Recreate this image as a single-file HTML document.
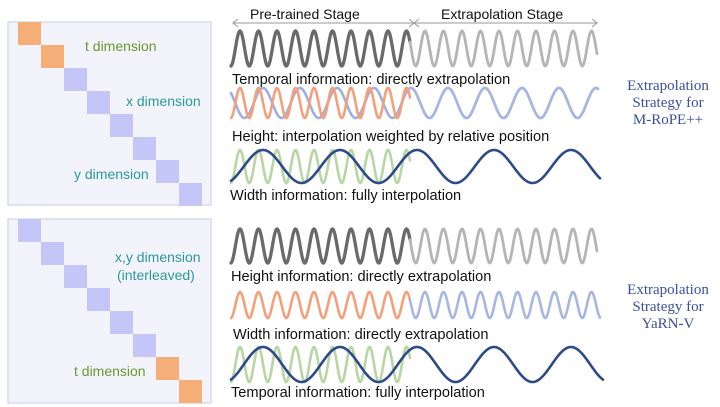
<!DOCTYPE html>
<html><head><meta charset="utf-8"><style>
html,body{margin:0;padding:0;background:#fff;}
svg{display:block;}
.lb{font-family:"Liberation Sans",sans-serif;font-size:14.6px;fill:#111;}
.dm{font-family:"Liberation Sans",sans-serif;font-size:14px;}
.rt{font-family:"Liberation Serif",serif;font-size:15px;fill:#3b4fa0;}
</style></head><body>
<svg id="s" width="720" height="407" viewBox="0 0 720 407" xmlns="http://www.w3.org/2000/svg">
<rect x="8" y="22" width="203" height="183" fill="#f2f3fb" stroke="#d8dbee" stroke-width="1.5"/>
<rect x="8" y="219" width="203" height="184" fill="#f2f3fb" stroke="#d8dbee" stroke-width="1.5"/>
<g id="sq"></g>
<text class="dm" x="85" y="51" fill="#6a9a30">t dimension</text>
<text class="dm" x="126" y="106" fill="#2a9a9a">x dimension</text>
<text class="dm" x="74" y="179" fill="#2a9a9a">y dimension</text>
<text class="dm" x="115" y="262" fill="#2a9a9a">x,y dimension</text>
<text class="dm" x="117" y="280" fill="#2a9a9a">(interleaved)</text>
<text class="dm" x="74" y="376" fill="#6a9a30">t dimension</text>
<text class="lb" x="250" y="19" style="font-size:14px">Pre-trained Stage</text>
<text class="lb" x="441" y="19" style="font-size:14px">Extrapolation Stage</text>
<g stroke="#999" stroke-width="1" fill="none">
<line x1="233" y1="23" x2="597" y2="23"/>
<path d="M238 19 L233 23 L238 27 M409 19 L414 23 L409 27 M419 19 L414 23 L419 27 M592 19 L597 23 L592 27"/>
</g>
<g id="w" fill="none" stroke-linecap="round"></g>
<text class="lb" x="232" y="84">Temporal information: directly extrapolation</text>
<text class="lb" x="232" y="141">Height: interpolation weighted by relative position</text>
<text class="lb" x="230" y="200">Width information: fully interpolation</text>
<text class="lb" x="231" y="281">Height information: directly extrapolation</text>
<text class="lb" x="233" y="339">Width information: directly extrapolation</text>
<text class="lb" x="231" y="397">Temporal information: fully interpolation</text>
<text class="rt" text-anchor="middle" x="668" y="90">Extrapolation</text>
<text class="rt" text-anchor="middle" x="668" y="107">Strategy for</text>
<text class="rt" text-anchor="middle" x="668" y="124">M-RoPE++</text>
<text class="rt" text-anchor="middle" x="668" y="294">Extrapolation</text>
<text class="rt" text-anchor="middle" x="668" y="311">Strategy for</text>
<text class="rt" text-anchor="middle" x="668" y="328">YaRN-V</text>
</svg>
<script>
var NS="http://www.w3.org/2000/svg";
var sq=document.getElementById("sq");
function r(x,y,c){var e=document.createElementNS(NS,"rect");e.setAttribute("x",x);e.setAttribute("y",y);e.setAttribute("width",23);e.setAttribute("height",23);e.setAttribute("fill",c);sq.appendChild(e);}
var O="#f6ae78",P="#c3c6f6";
for(var i=0;i<8;i++){r(18+i*23,22+i*23,i<2?O:P);}
for(var i=0;i<8;i++){r(18+i*23,219+i*23,i>=6?O:P);}
var w=document.getElementById("w");
function wave(x0,x1,yt,yb,per,ph,c,sw,op){
 var d="",mid=(yt+yb)/2,a=(yb-yt)/2;
 for(var x=x0;x<=x1;x+=0.5){var y=mid-a*Math.cos(2*Math.PI*(x-ph)/per);d+=(x==x0?"M":"L")+x.toFixed(1)+" "+y.toFixed(2);}
 var p=document.createElementNS(NS,"path");p.setAttribute("d",d);p.setAttribute("stroke",c);p.setAttribute("stroke-width",sw);if(op)p.setAttribute("opacity",op);w.appendChild(p);}
wave(231,410,31,66,18.5,240,"#6a6a6a",3.3);
wave(410,597,31,66,18.5,240,"#b5b5b5",2.8);
wave(231,410,88,118,37,263,"#9fb0e0",2.6);
wave(231,410,88,118,18.5,240,"#f4a07a",2.6);
wave(410,598,88,118,37,263,"#a8b6e2",2.8);
wave(231,410,150,183,18.5,240,"#b7d6a4",2.6);
wave(231,600,150,183,77,263,"#2d4a8a",2.6);
wave(231,410,229,263,18.5,240,"#6a6a6a",3.3);
wave(410,597,229,263,18.5,240,"#b5b5b5",2.8);
wave(231,410,292,318,18.5,240,"#f4a07a",2.6);
wave(410,600,292,318,18.5,240,"#a8b6e2",2.6);
wave(231,410,347,382,18.5,240,"#b7d6a4",2.6);
wave(231,603,347,382,77,263,"#2d4a8a",2.6);
</script>
</body></html>
